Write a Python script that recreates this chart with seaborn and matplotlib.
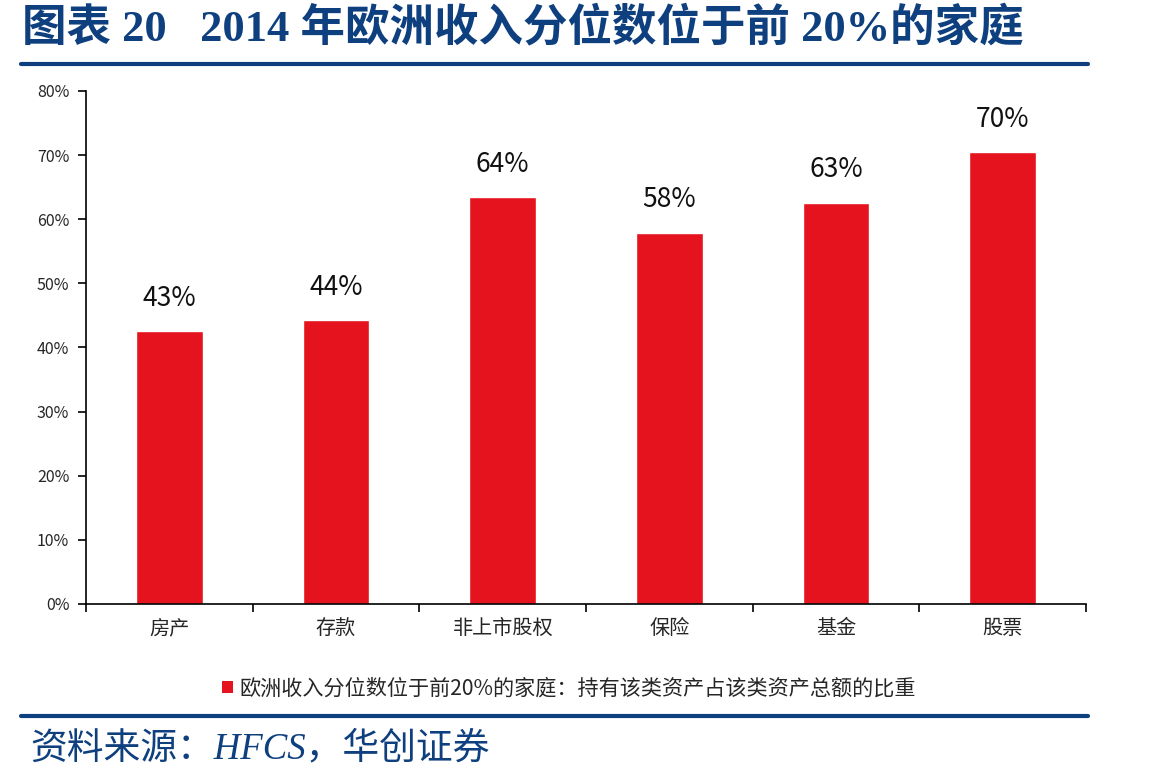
import matplotlib
matplotlib.use("Agg")
import matplotlib.pyplot as plt
import matplotlib.ticker as mticker
from matplotlib.lines import Line2D
from matplotlib.patches import Patch
import seaborn as sns
import pandas as pd

sns.set_style("white")
plt.rcParams["font.family"] = ["Noto Sans CJK SC", "DejaVu Sans"]

# data
categories = ["房产", "存款", "非上市股权", "保险", "基金", "股票"]
shares = [42.6, 44.3, 63.5, 57.9, 62.6, 70.5]
value_labels = ["43%", "44%", "64%", "58%", "63%", "70%"]
legend_label = "欧洲收入分位数位于前20%的家庭：持有该类资产占该类资产总额的比重"
title = "图表 20   2014 年欧洲收入分位数位于前 20%的家庭"
source = "资料来源：HFCS，华创证券"

bar_red = "#e5131d"
navy = "#0e3f7e"
serif_cjk = ["Liberation Serif", "Noto Sans CJK SC"]

df = pd.DataFrame({"cat": categories, "share": shares})

fig = plt.figure(figsize=(11.49, 7.84), dpi=100)
ax = fig.add_axes([0.0748, 0.2296, 0.8705, 0.6544])

sns.barplot(data=df, x="cat", y="share", color=bar_red, width=0.4,
            saturation=1, ax=ax)

ax.set_ylim(0, 80)
ax.set_xlim(-0.5, len(categories) - 0.5)
ax.yaxis.set_major_locator(mticker.MultipleLocator(10))
ax.yaxis.set_major_formatter(mticker.FuncFormatter(lambda v, p: f"{v:.0f}%"))
ax.set_xlabel("")
ax.set_ylabel("")

# spines: only left and bottom
for side in ["top", "right"]:
    ax.spines[side].set_visible(False)
for side in ["left", "bottom"]:
    ax.spines[side].set_color("black")
    ax.spines[side].set_linewidth(1.2)

# x ticks sit on category boundaries
ax.set_xticks([i - 0.5 for i in range(len(categories) + 1)], minor=False)
ax.set_xticklabels([])
ax.set_xticks(range(len(categories)), minor=True)
ax.set_xticklabels(categories, minor=True, fontsize=14.5)
ax.tick_params(axis="x", which="major", bottom=True, direction="out", length=6,
               width=1.2, color="black")
ax.tick_params(axis="x", which="minor", bottom=True, length=0, pad=10)
ax.tick_params(axis="y", left=True, direction="out", length=6, width=1.2,
               color="black", labelsize=11.5, pad=6)
ax.grid(False)

# value labels above bars
for i, (v, lab) in enumerate(zip(shares, value_labels)):
    ax.text(i, v + 3.0, lab, ha="center", va="bottom", fontsize=19, color="#111111")

# legend below the chart
handle = Patch(facecolor=bar_red, edgecolor="none")
fig.legend([handle], [legend_label], loc="center", bbox_to_anchor=(0.495, 0.122),
           frameon=False, fontsize=15.2, handlelength=0.55, handleheight=0.55,
           handletextpad=0.3)

# title and rules
fig.text(0.019, 0.964, title, ha="left", va="center", fontsize=32,
         fontweight="bold", color=navy, family=serif_cjk)
fig.add_artist(Line2D([0.018, 0.947], [0.918, 0.918], color=navy, linewidth=3,
                      transform=fig.transFigure))
fig.add_artist(Line2D([0.018, 0.947], [0.087, 0.087], color=navy, linewidth=3,
                      transform=fig.transFigure))
fig.text(0.026, 0.045, source, ha="left", va="center", fontsize=26.5,
         style="italic", color=navy, family=serif_cjk)

fig.savefig("out.png", dpi=100)
